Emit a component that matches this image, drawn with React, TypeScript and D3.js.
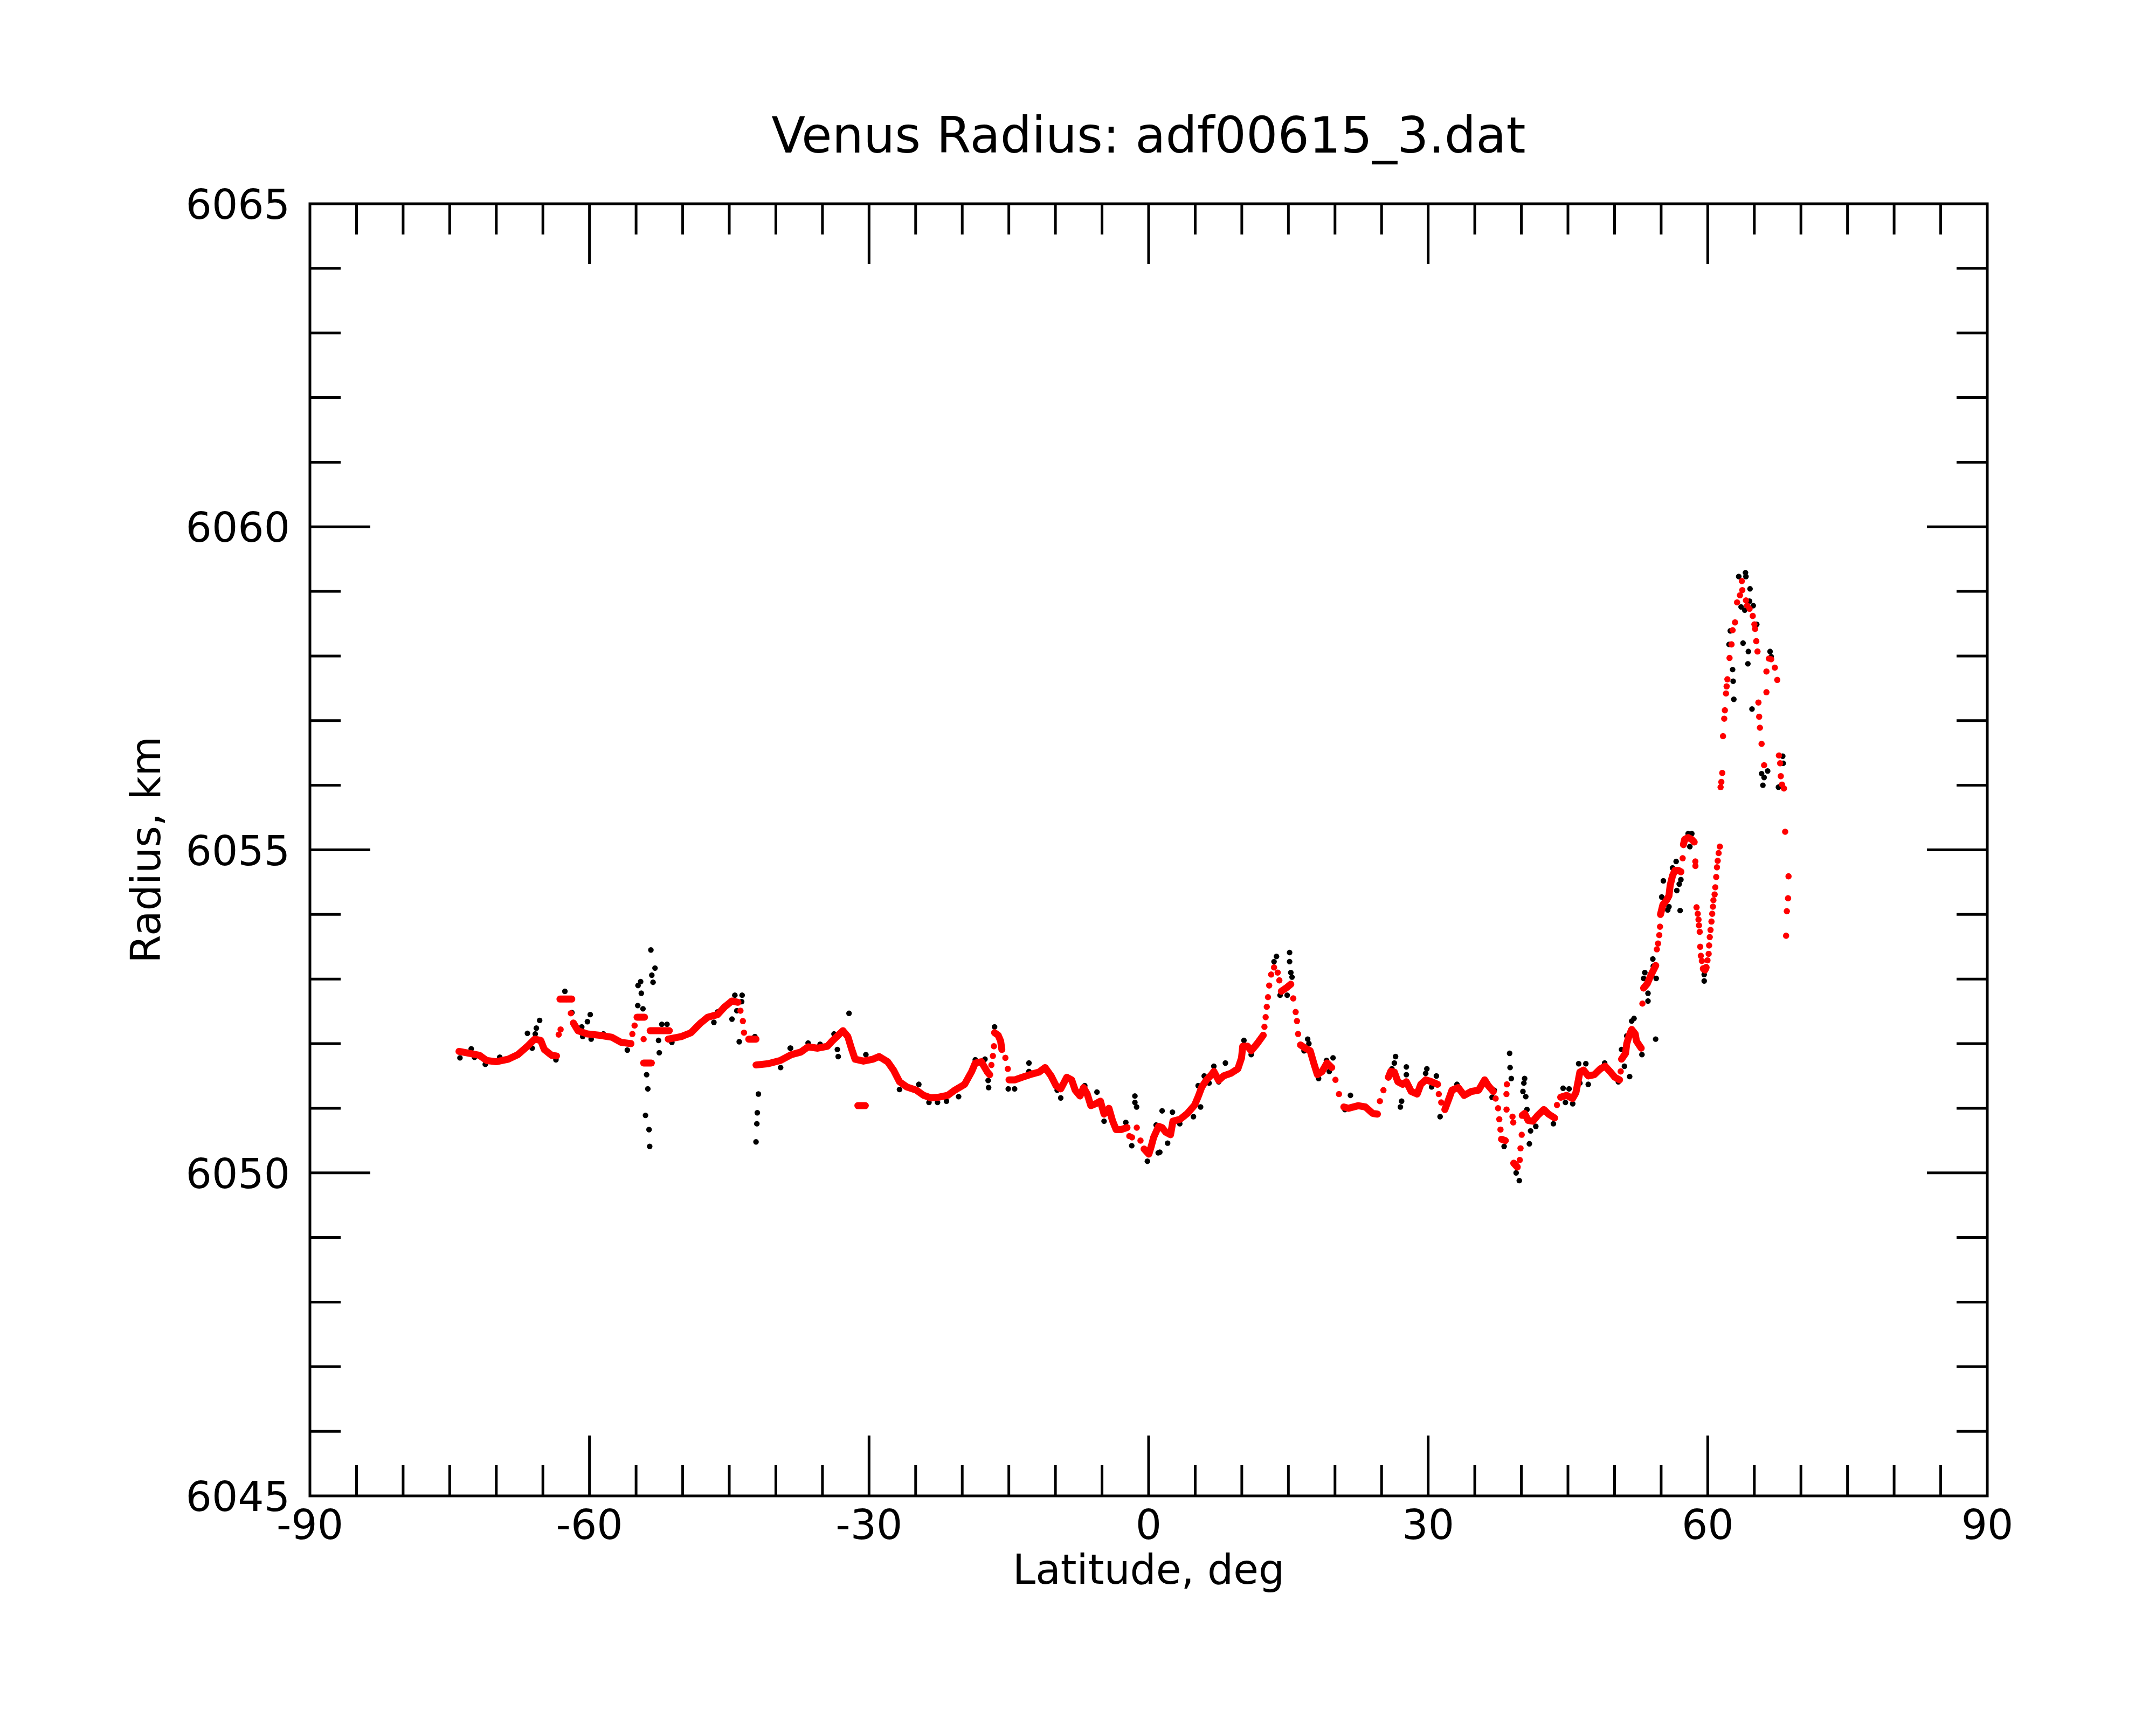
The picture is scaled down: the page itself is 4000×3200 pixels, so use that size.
import { useEffect, useRef } from 'react';
import * as d3 from 'd3';

type Pt = [number, number]; // [latitude deg, radius km]

const TITLE = 'Venus Radius: adf00615_3.dat';
const X_LABEL = 'Latitude, deg';
const Y_LABEL = 'Radius, km';
const xTickLabels = [-90, -60, -30, 0, 30, 60, 90];
const yTickLabels = [6045, 6050, 6055, 6060, 6065];

// red profile: stretches where the points run together
const redRunsSouth: Pt[][] = [
  [[-74.0, 6051.88], [-72.85, 6051.85], [-71.82, 6051.82], [-71.04, 6051.74], [-70.02, 6051.72], [-68.72, 6051.76], [-67.68, 6051.83], [-66.66, 6051.96], [-65.88, 6052.07], [-65.23, 6052.05], [-64.85, 6051.91], [-64.07, 6051.82], [-63.54, 6051.81]],
  [[-63.17, 6052.69], [-62.5, 6052.69], [-61.9, 6052.69]],
  [[-61.73, 6052.32], [-61.23, 6052.2], [-60.22, 6052.15], [-58.92, 6052.13], [-57.61, 6052.1], [-56.61, 6052.02], [-55.55, 6052.0]],
  [[-54.9, 6052.41], [-54.09, 6052.41]],
  [[-54.19, 6051.7], [-53.36, 6051.7]],
  [[-53.49, 6052.2], [-52.49, 6052.2], [-51.43, 6052.2]],
  [[-51.55, 6052.07], [-50.13, 6052.11], [-49.1, 6052.17], [-48.07, 6052.32], [-47.3, 6052.41], [-46.26, 6052.45], [-45.49, 6052.57], [-44.71, 6052.66], [-44.07, 6052.64]],
  [[-42.91, 6052.07], [-42.13, 6052.07]],
  [[-42.13, 6051.67], [-40.83, 6051.69], [-39.52, 6051.74], [-38.35, 6051.83], [-37.32, 6051.87], [-36.54, 6051.95], [-35.51, 6051.93], [-34.47, 6051.96], [-33.96, 6052.04], [-33.31, 6052.13], [-32.8, 6052.2], [-32.28, 6052.11], [-31.9, 6051.93], [-31.5, 6051.76], [-30.6, 6051.73], [-29.57, 6051.76], [-28.92, 6051.8], [-28.01, 6051.72], [-27.37, 6051.59], [-26.73, 6051.41], [-25.95, 6051.33], [-24.92, 6051.28], [-24.14, 6051.2], [-23.37, 6051.16], [-22.6, 6051.17], [-21.56, 6051.2], [-20.79, 6051.28], [-19.75, 6051.37], [-18.98, 6051.57], [-18.6, 6051.7], [-17.95, 6051.72], [-17.3, 6051.56], [-17.05, 6051.52]],
  [[-31.2, 6051.04], [-30.4, 6051.04]],
];

const redRunsMid: Pt[][] = [
  [[-16.53, 6052.17], [-16.14, 6052.13], [-15.88, 6052.04], [-15.75, 6051.91]],
  [[-14.98, 6051.44], [-14.33, 6051.44], [-13.56, 6051.48], [-12.52, 6051.53], [-11.75, 6051.56], [-11.11, 6051.63], [-10.46, 6051.5], [-9.94, 6051.35], [-9.43, 6051.3], [-8.78, 6051.48], [-8.26, 6051.44], [-7.88, 6051.28], [-7.36, 6051.19], [-6.98, 6051.32], [-6.59, 6051.22], [-6.2, 6051.04], [-5.68, 6051.07], [-5.17, 6051.11], [-4.78, 6050.91], [-4.26, 6051.0], [-3.88, 6050.81], [-3.49, 6050.67], [-2.97, 6050.67], [-2.32, 6050.7]],
  [[-0.49, 6050.37], [0.03, 6050.29], [0.28, 6050.41], [0.54, 6050.55], [1.07, 6050.72], [1.45, 6050.7], [1.84, 6050.63], [2.35, 6050.59], [2.61, 6050.8], [3.39, 6050.83], [4.16, 6050.92], [4.94, 6051.05], [5.32, 6051.18], [5.71, 6051.33], [6.22, 6051.44], [6.75, 6051.52], [7.0, 6051.57], [7.52, 6051.43], [8.04, 6051.5], [8.81, 6051.54], [9.58, 6051.61], [9.97, 6051.78], [10.1, 6051.96], [10.62, 6051.96], [11.01, 6051.89], [11.65, 6052.0], [12.3, 6052.13]],
  [[14.24, 6052.81], [14.75, 6052.86], [15.26, 6052.92]],
  [[16.3, 6051.98], [16.81, 6051.93], [17.34, 6051.89], [17.72, 6051.7], [18.11, 6051.52], [18.62, 6051.57], [19.14, 6051.7], [19.65, 6051.63]],
  [[20.95, 6051.02], [21.46, 6051.0], [22.5, 6051.04], [23.27, 6051.02], [24.05, 6050.92], [24.56, 6050.91]],
  [[25.73, 6051.48], [25.98, 6051.57], [26.37, 6051.56], [26.75, 6051.41], [27.27, 6051.37], [27.66, 6051.41], [28.18, 6051.26], [28.82, 6051.22], [29.21, 6051.37], [29.73, 6051.44], [30.37, 6051.41], [31.01, 6051.37]],
  [[31.79, 6050.98], [32.18, 6051.13], [32.56, 6051.28], [33.22, 6051.32], [33.86, 6051.2], [34.63, 6051.26], [35.41, 6051.28], [36.06, 6051.44], [36.45, 6051.35], [36.99, 6051.26]],
];

const redRunsNorth: Pt[][] = [
  [[37.87, 6050.52], [38.28, 6050.5]],
  [[39.18, 6050.15], [39.56, 6050.09]],
  [[40.09, 6050.89], [40.35, 6050.92], [40.73, 6050.81], [41.24, 6050.8], [41.76, 6050.89], [42.41, 6050.98], [42.92, 6050.91], [43.57, 6050.85]],
  [[44.22, 6051.17], [44.86, 6051.2], [45.5, 6051.15], [45.85, 6051.24], [46.03, 6051.37], [46.28, 6051.56], [46.67, 6051.59], [47.18, 6051.5], [47.83, 6051.52], [48.48, 6051.61], [48.99, 6051.65], [49.51, 6051.57], [50.03, 6051.48], [50.54, 6051.44]],
  [[50.75, 6051.76], [51.18, 6051.85], [51.31, 6052.0], [51.58, 6052.13], [51.84, 6052.22], [52.22, 6052.15], [52.35, 6052.04], [52.86, 6051.93]],
  [[53.12, 6052.86], [53.52, 6052.93], [53.9, 6053.06], [54.42, 6053.21]],
  [[54.93, 6054.0], [55.19, 6054.15], [55.58, 6054.22], [55.84, 6054.29], [55.97, 6054.45], [56.22, 6054.6], [56.48, 6054.68], [56.86, 6054.68], [57.12, 6054.66]],
  [[57.39, 6055.08], [57.52, 6055.16], [57.9, 6055.19], [58.29, 6055.16], [58.55, 6055.12]],
  [[59.52, 6053.16], [59.7, 6053.14], [59.83, 6053.18]],
];

// red profile: separate points
const redLooseSouth: Pt[] = [
  [-63.3, 6052.14], [-63.1, 6052.22], [-62.0, 6052.47], [-55.4, 6052.15], [-55.16, 6052.28],
  [-54.19, 6052.07], [-43.8, 6052.51], [-43.54, 6052.35], [-43.42, 6052.17],
  [-16.87, 6051.67], [-16.71, 6051.81], [-16.6, 6051.96], [-15.37, 6051.78], [-15.11, 6051.61],
  [-2.07, 6050.57], [-1.78, 6050.55], [-1.27, 6050.7], [-0.87, 6050.5],
];

const redLooseMid: Pt[] = [
  [12.43, 6052.26], [12.56, 6052.41], [12.68, 6052.57], [12.81, 6052.72], [12.94, 6052.9],
  [13.15, 6053.07], [13.46, 6053.18], [13.85, 6053.1], [14.03, 6052.98],
  [15.52, 6052.7], [15.78, 6052.49], [15.92, 6052.35], [16.04, 6052.15],
  [20.05, 6051.44], [20.43, 6051.22], [24.82, 6051.11], [25.2, 6051.28],
  [31.14, 6051.22], [31.4, 6051.09], [37.24, 6051.15], [37.5, 6051.0], [37.63, 6050.83], [37.76, 6050.67],
  [38.45, 6051.37], [38.4, 6051.22], [38.41, 6050.98], [39.05, 6050.87], [39.13, 6050.78],
  [39.83, 6050.2], [39.91, 6050.38], [40.04, 6050.59], [43.82, 6051.05], [50.66, 6051.57], [52.99, 6052.62],
];

const redLooseNorth: Pt[] = [
  [54.54, 6053.46], [54.67, 6053.55], [54.8, 6053.68], [54.88, 6053.81], [57.31, 6054.87],
  [58.67, 6054.82], [58.68, 6054.75], [58.8, 6054.11], [58.93, 6054.01], [59.01, 6053.92], [59.06, 6053.83],
  [59.14, 6053.73], [59.19, 6053.5], [59.26, 6053.36], [59.37, 6053.28],
  [59.97, 6053.29], [60.1, 6053.39], [60.15, 6053.52], [60.22, 6053.65], [60.3, 6053.76], [60.4, 6053.89],
  [60.48, 6054.01], [60.56, 6054.12], [60.61, 6054.22], [60.74, 6054.31], [60.81, 6054.42], [60.91, 6054.58],
  [60.99, 6054.73], [61.07, 6054.83], [61.17, 6054.95], [61.3, 6055.05],
  [61.38, 6055.97], [61.46, 6056.05], [61.56, 6056.19], [61.64, 6056.76], [61.77, 6057.03], [61.84, 6057.16],
  [61.96, 6057.42], [62.03, 6057.53], [62.11, 6057.64], [62.34, 6057.97], [62.55, 6058.18], [62.67, 6058.4],
  [62.93, 6058.52], [63.15, 6058.83], [63.46, 6058.94], [63.66, 6059.16], [63.71, 6059.02], [64.1, 6058.86],
  [64.23, 6058.78], [64.49, 6058.73], [64.83, 6058.62], [65.01, 6058.49], [65.08, 6058.42], [65.21, 6058.23],
  [65.34, 6058.07], [65.44, 6057.28], [65.52, 6057.06], [65.6, 6056.89], [65.78, 6056.64], [66.05, 6056.31],
  [66.3, 6057.76], [66.3, 6057.44], [66.56, 6057.96], [66.81, 6057.95], [67.2, 6057.82], [67.46, 6057.63],
  [67.64, 6056.46], [67.77, 6056.34], [67.84, 6056.14], [67.97, 6056.01], [68.18, 6055.95],
  [68.31, 6055.28], [68.67, 6054.59], [68.62, 6054.25], [68.49, 6054.05], [68.41, 6053.67],
];

// black raw points visible around the red profile
const blackSouth: Pt[] = [
  [-73.9, 6051.78], [-72.69, 6051.92], [-72.34, 6051.79], [-71.18, 6051.68], [-69.63, 6051.79],
  [-66.66, 6052.16], [-65.7, 6052.24], [-65.35, 6052.36], [-65.82, 6052.15], [-66.15, 6051.93], [-63.6, 6051.75],
  [-62.64, 6052.81], [-61.89, 6052.48], [-59.92, 6052.45], [-60.22, 6052.34], [-60.83, 6052.26], [-60.73, 6052.11],
  [-59.82, 6052.07], [-58.51, 6052.15], [-55.94, 6051.9], [-54.79, 6052.9], [-54.51, 6052.96], [-54.44, 6052.78],
  [-54.82, 6052.59], [-54.26, 6052.54], [-53.41, 6053.45], [-52.97, 6053.17], [-53.31, 6053.06], [-53.18, 6052.95],
  [-52.24, 6052.3], [-51.68, 6052.3], [-52.59, 6052.05], [-52.51, 6051.86], [-53.87, 6051.52], [-53.74, 6051.3],
  [-53.99, 6050.89], [-53.61, 6050.67], [-53.54, 6050.41], [-51.16, 6052.02], [-46.65, 6052.33], [-46.26, 6052.49],
  [-44.71, 6052.38], [-44.4, 6052.75], [-43.62, 6052.75], [-43.67, 6052.65], [-44.19, 6052.51], [-43.93, 6052.03],
  [-42.25, 6052.11], [-41.87, 6051.22], [-41.99, 6050.93], [-42.04, 6050.76], [-42.13, 6050.48],
  [-39.49, 6051.63], [-38.46, 6051.93], [-38.42, 6051.93], [-36.54, 6052.01], [-35.25, 6051.99],
  [-33.76, 6052.15], [-33.4, 6051.91], [-33.31, 6051.8], [-32.15, 6052.47], [-30.34, 6051.83],
  [-26.73, 6051.29], [-24.66, 6051.37], [-23.57, 6051.09], [-22.65, 6051.09], [-21.69, 6051.11], [-20.39, 6051.18],
  [-18.6, 6051.75], [-17.56, 6051.76], [-17.22, 6051.43], [-17.17, 6051.32], [-16.53, 6052.26],
  [-15.06, 6051.3], [-14.38, 6051.3], [-12.84, 6051.7], [-12.84, 6051.57], [-9.81, 6051.28], [-9.43, 6051.16],
  [-6.85, 6051.35], [-5.54, 6051.25], [-4.78, 6050.8], [-2.45, 6050.78], [-1.81, 6050.42],
  [-1.47, 6051.19], [-1.47, 6051.09], [-1.29, 6051.02], [-0.13, 6050.18],
];

const blackNorth: Pt[] = [
  [1.03, 6050.31], [1.2, 6050.32], [1.45, 6050.96], [0.81, 6050.74], [2.04, 6050.46], [2.56, 6050.94], [3.34, 6050.76],
  [4.81, 6050.87], [5.32, 6051.35], [5.58, 6051.02], [5.97, 6051.5], [6.49, 6051.39], [7.0, 6051.65], [8.24, 6051.7],
  [7.52, 6051.41], [10.23, 6052.05], [11.01, 6051.83], [13.72, 6053.35], [13.46, 6053.27], [15.13, 6053.41],
  [15.13, 6053.27], [15.26, 6053.1], [15.39, 6053.03], [14.11, 6052.75], [14.87, 6052.75], [17.07, 6052.07],
  [17.2, 6052.0], [16.68, 6051.89], [18.24, 6051.46], [19.79, 6051.78], [19.39, 6051.57], [19.09, 6051.74],
  [21.66, 6051.2], [21.07, 6050.98], [26.5, 6051.8], [26.37, 6051.7], [26.11, 6051.61], [27.66, 6051.64],
  [27.66, 6051.52], [27.15, 6051.11], [27.02, 6051.02], [29.86, 6051.61], [29.73, 6051.54], [30.88, 6051.5],
  [30.37, 6051.33], [31.28, 6050.87], [33.09, 6051.37], [37.09, 6051.28], [38.15, 6050.41], [36.86, 6051.17],
  [38.74, 6051.85], [38.79, 6051.63], [38.92, 6051.46], [40.35, 6051.46], [40.27, 6051.39], [40.17, 6051.26],
  [40.47, 6051.18], [40.6, 6050.98], [40.99, 6050.65], [40.86, 6050.45], [39.44, 6050.0], [39.78, 6049.88],
  [41.55, 6050.72], [43.44, 6050.76], [44.48, 6051.31], [45.12, 6051.3], [45.51, 6051.07], [44.73, 6051.09],
  [46.15, 6051.69], [46.92, 6051.69], [47.18, 6051.37], [46.28, 6051.39], [48.94, 6051.7], [50.41, 6051.41],
  [51.62, 6051.49], [50.75, 6051.91], [51.06, 6051.65], [51.31, 6052.12], [51.84, 6052.35], [52.09, 6052.39],
  [52.94, 6051.83], [54.41, 6052.07], [53.59, 6052.66], [53.59, 6052.78], [53.12, 6053.01], [53.25, 6053.1],
  [54.11, 6053.31], [54.16, 6053.2], [54.47, 6053.01], [55.71, 6054.07], [55.84, 6054.12], [57.04, 6054.06],
  [56.68, 6054.37], [55.06, 6054.27], [55.24, 6054.52], [56.22, 6054.72], [56.61, 6054.82], [57.12, 6054.54],
  [56.94, 6054.47], [57.9, 6055.25], [58.29, 6055.25], [58.08, 6055.05], [59.62, 6052.97], [59.62, 6053.07],
  [63.33, 6059.23], [64.05, 6059.29], [64.1, 6059.23], [64.54, 6059.04], [64.49, 6058.85], [64.88, 6058.78],
  [63.97, 6058.71], [63.58, 6058.76], [65.26, 6058.49], [62.42, 6058.39], [62.29, 6058.18], [63.79, 6058.2],
  [64.36, 6058.07], [64.31, 6057.88], [62.67, 6057.79], [62.73, 6057.61], [62.8, 6057.33], [64.75, 6057.18],
  [66.69, 6058.07], [66.81, 6057.99], [68.05, 6056.45], [68.1, 6056.34], [66.43, 6056.22], [65.78, 6056.18],
  [66.05, 6056.12], [65.92, 6056.0], [67.59, 6055.97],
];

const W = 4000;
const H = 3200;
const FONT = "'DejaVu Sans', Verdana, sans-serif";

export default function App() {
  const svgRef = useRef<SVGSVGElement>(null);

  useEffect(() => {
    if (!svgRef.current) return;
    const svg = d3.select(svgRef.current);
    svg.selectAll('*').remove();

    const left = 575, right = 3687, top = 378, bottom = 2775;
    const x = d3.scaleLinear().domain([-90, 90]).range([left, right]);
    const y = d3.scaleLinear().domain([6045, 6065]).range([bottom, top]);

    svg.append('rect').attr('width', W).attr('height', H).attr('fill', '#ffffff');

    // raw points first, red profile on top
    const plot = svg.append('g');
    plot.selectAll('circle.raw')
      .data(blackSouth.concat(blackNorth))
      .join('circle')
      .attr('class', 'raw')
      .attr('cx', d => x(d[0]))
      .attr('cy', d => y(d[1]))
      .attr('r', 5.2)
      .attr('fill', '#000000');

    const runs = [...redRunsSouth, ...redRunsMid, ...redRunsNorth];
    const line = d3.line<Pt>().x(d => x(d[0])).y(d => y(d[1]));
    plot.selectAll('path.run')
      .data(runs)
      .join('path')
      .attr('class', 'run')
      .attr('d', d => line(d))
      .attr('fill', 'none')
      .attr('stroke', '#ff0000')
      .attr('stroke-width', 13)
      .attr('stroke-linecap', 'round')
      .attr('stroke-linejoin', 'round');

    const redPts = runs.flat().concat(redLooseSouth, redLooseMid, redLooseNorth);
    plot.selectAll('circle.red')
      .data(redPts)
      .join('circle')
      .attr('class', 'red')
      .attr('cx', d => x(d[0]))
      .attr('cy', d => y(d[1]))
      .attr('r', 5.8)
      .attr('fill', '#ff0000');

    // frame and inward ticks on all four sides
    const axes = svg.append('g').attr('stroke', '#000').attr('stroke-width', 5).attr('fill', 'none');
    axes.append('rect')
      .attr('x', left).attr('y', top)
      .attr('width', right - left).attr('height', bottom - top);

    const xMinor = d3.range(-85, 90, 5);
    xMinor.forEach(v => {
      const len = v % 30 === 0 ? 112 : 57;
      axes.append('line').attr('x1', x(v)).attr('x2', x(v)).attr('y1', bottom).attr('y2', bottom - len);
      axes.append('line').attr('x1', x(v)).attr('x2', x(v)).attr('y1', top).attr('y2', top + len);
    });
    const yMinor = d3.range(6046, 6065, 1);
    yMinor.forEach(v => {
      const len = (v - 6045) % 5 === 0 ? 112 : 57;
      axes.append('line').attr('x1', left).attr('x2', left + len).attr('y1', y(v)).attr('y2', y(v));
      axes.append('line').attr('x1', right).attr('x2', right - len).attr('y1', y(v)).attr('y2', y(v));
    });

    const labels = svg.append('g').attr('font-family', FONT).attr('fill', '#000');
    labels.selectAll('text.xt')
      .data(xTickLabels)
      .join('text')
      .attr('class', 'xt')
      .attr('x', d => x(d))
      .attr('y', 2855)
      .attr('text-anchor', 'middle')
      .attr('font-size', 76)
      .text(d => `${d}`);
    labels.selectAll('text.yt')
      .data(yTickLabels)
      .join('text')
      .attr('class', 'yt')
      .attr('x', 538)
      .attr('y', d => y(d) + 28)
      .attr('text-anchor', 'end')
      .attr('font-size', 76)
      .text(d => `${d}`);

    labels.append('text')
      .attr('x', (left + right) / 2)
      .attr('y', 283)
      .attr('text-anchor', 'middle')
      .attr('font-size', 92)
      .text(TITLE);
    labels.append('text')
      .attr('x', (left + right) / 2)
      .attr('y', 2938)
      .attr('text-anchor', 'middle')
      .attr('font-size', 76)
      .text(X_LABEL);
    labels.append('text')
      .attr('transform', `translate(297,${(top + bottom) / 2}) rotate(-90)`)
      .attr('text-anchor', 'middle')
      .attr('font-size', 76)
      .text(Y_LABEL);
  }, []);

  return (
    <svg
      ref={svgRef}
      width={W}
      height={H}
      viewBox={`0 0 ${W} ${H}`}
      style={{ position: 'absolute', left: 0, top: 0, display: 'block' }}
    />
  );
}
